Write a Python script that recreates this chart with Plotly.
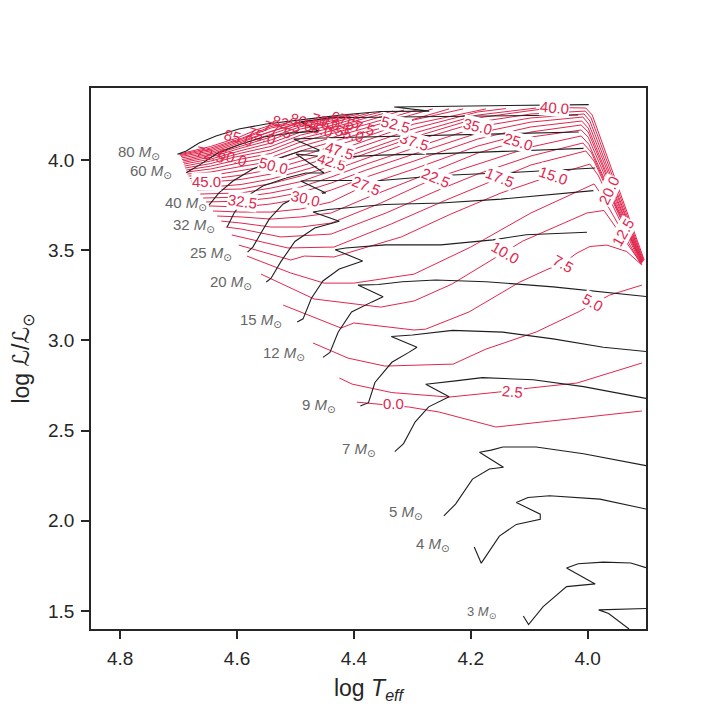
import plotly.graph_objects as go

# ---- evolutionary tracks (log Teff, log L/Lsun) ----
track_80 = [(4.702, 4.032), (4.687, 4.051), (4.665, 4.095), (4.636, 4.134), (4.597, 4.173), (4.550, 4.200),
            (4.491, 4.223), (4.422, 4.250), (4.354, 4.270), (4.271, 4.272), (4.331, 4.295), (4.268, 4.297),
            (4.182, 4.300), (3.998, 4.308)]
track_60 = [(4.687, 3.930), (4.662, 3.978), (4.633, 4.040), (4.593, 4.089), (4.554, 4.128), (4.508, 4.150),
            (4.460, 4.162), (4.491, 4.211), (4.439, 4.235), (4.251, 4.242), (4.016, 4.250)]
track_40 = [(4.648, 3.751), (4.631, 3.818), (4.607, 3.884), (4.573, 3.951), (4.533, 4.006), (4.491, 4.051),
            (4.456, 4.051), (4.503, 4.117), (4.439, 4.124), (4.251, 4.139), (4.015, 4.156)]
track_32 = [(4.617, 3.629), (4.605, 3.707), (4.585, 3.796), (4.556, 3.857), (4.516, 3.901), (4.482, 3.929),
            (4.451, 3.929), (4.499, 4.034), (4.439, 4.015), (4.354, 4.028), (4.251, 4.036), (4.114, 4.051),
            (4.007, 4.065)]
track_25 = [(4.582, 3.490), (4.573, 3.518), (4.562, 3.579), (4.545, 3.673), (4.521, 3.757), (4.491, 3.807),
            (4.448, 3.818), (4.491, 3.884), (4.439, 3.887), (4.354, 3.887), (4.251, 3.915), (4.114, 3.934),
            (3.987, 3.956)]
track_20 = [(4.550, 3.324), (4.542, 3.344), (4.525, 3.437), (4.501, 3.549), (4.467, 3.624), (4.425, 3.661),
            (4.470, 3.712), (4.444, 3.726), (4.347, 3.754), (4.251, 3.762), (4.148, 3.784), (3.990, 3.831)]
track_15 = [(4.497, 3.102), (4.487, 3.120), (4.473, 3.233), (4.453, 3.330), (4.425, 3.396), (4.385, 3.441),
            (4.432, 3.503), (4.414, 3.513), (4.346, 3.530), (4.251, 3.530), (4.162, 3.558), (4.105, 3.586),
            (4.001, 3.600)]
track_12 = [(4.453, 2.906), (4.441, 2.934), (4.427, 3.046), (4.404, 3.158), (4.369, 3.214), (4.350, 3.242),
            (4.393, 3.307), (4.358, 3.310), (4.317, 3.326), (4.260, 3.335), (4.174, 3.326), (4.059, 3.297),
            (3.900, 3.244)]
track_9 = [(4.389, 2.636), (4.375, 2.655), (4.364, 2.767), (4.335, 2.879), (4.306, 2.934), (4.292, 2.962),
           (4.336, 3.022), (4.300, 3.030), (4.231, 3.056), (4.145, 3.046), (4.059, 3.009), (3.973, 2.962),
           (3.900, 2.939)]
track_7 = [(4.330, 2.384), (4.315, 2.428), (4.295, 2.549), (4.272, 2.632), (4.237, 2.688), (4.277, 2.757),
           (4.226, 2.776), (4.180, 2.794), (4.093, 2.782), (4.007, 2.744), (3.900, 2.679)]
track_5 = [(4.246, 2.027), (4.226, 2.093), (4.197, 2.231), (4.168, 2.287), (4.144, 2.297), (4.185, 2.380),
           (4.165, 2.392), (4.145, 2.409), (4.088, 2.409), (4.007, 2.372), (3.900, 2.306)]
track_4 = [(4.194, 1.855), (4.182, 1.765), (4.151, 1.915), (4.122, 1.980), (4.081, 2.008), (4.081, 2.037),
           (4.122, 2.101), (4.102, 2.129), (4.065, 2.139), (3.979, 2.120), (3.900, 2.065)]
track_3 = [(4.110, 1.472), (4.101, 1.425), (4.076, 1.524), (4.036, 1.635), (3.987, 1.650), (4.036, 1.738),
           (4.016, 1.762), (3.973, 1.771), (3.926, 1.766), (3.900, 1.740)]
track_2p5 = [(3.929, 1.400), (3.964, 1.486), (3.981, 1.506), (3.955, 1.509), (3.925, 1.514), (3.900, 1.514)]

masses = [80, 60, 40, 32, 25, 20, 15, 12, 9, 7, 5, 4, 3]
mass_label_T = [4.768, 4.747, 4.687, 4.674, 4.645, 4.610, 4.559, 4.520, 4.460, 4.391, 4.311, 4.265, 4.182]
mass_label_L = [4.044, 3.935, 3.757, 3.640, 3.485, 3.324, 3.108, 2.930, 2.642, 2.398, 2.048, 1.871, 1.489]

# ---- iso-lines (every 2.5) ----
iso_00 = [(4.395, 2.658), (4.354, 2.647), (4.306, 2.631), (4.254, 2.603), (4.157, 2.520), (4.064, 2.553),
          (3.977, 2.586), (3.907, 2.609)]
iso_02 = [(4.425, 2.792), (4.403, 2.758), (4.335, 2.711), (4.237, 2.686), (4.152, 2.714), (4.099, 2.736),
          (4.018, 2.764), (3.907, 2.875)]
iso_05 = [(4.470, 2.986), (4.410, 2.902), (4.347, 2.858), (4.230, 2.869), (4.174, 2.952), (4.088, 3.047),
          (4.016, 3.158), (3.962, 3.252), (3.907, 3.307)]
iso_07 = [(4.521, 3.196), (4.479, 3.141), (4.422, 3.069), (4.400, 3.097), (4.297, 3.058), (4.277, 3.063),
          (4.203, 3.158), (4.116, 3.324), (4.071, 3.391), (4.042, 3.429), (4.018, 3.485), (3.996, 3.521),
          (3.967, 3.529), (3.933, 3.493), (3.907, 3.418)]
iso_10 = [(4.559, 3.368), (4.468, 3.230), (4.354, 3.185), (4.297, 3.219), (4.232, 3.313), (4.174, 3.429),
          (4.111, 3.551), (4.001, 3.707), (3.972, 3.721), (3.907, 3.421)]
iso_12 = [(4.583, 3.468), (4.508, 3.374), (4.451, 3.318), (4.400, 3.318), (4.297, 3.368), (4.200, 3.518),
          (4.097, 3.707), (3.989, 3.868), (3.977, 3.812), (3.909, 3.424)]
iso_15 = [(4.597, 3.529), (4.508, 3.446), (4.485, 3.468), (4.434, 3.463), (4.319, 3.574), (4.234, 3.701),
          (4.148, 3.818), (4.059, 3.917), (3.996, 3.978), (3.982, 3.917), (3.909, 3.427)]
iso_17 = [(4.609, 3.585), (4.513, 3.513), (4.434, 3.518), (4.336, 3.646), (4.242, 3.779), (4.150, 3.901),
          (4.097, 3.973), (4.003, 4.051), (3.989, 3.995), (3.908, 3.429)]
iso_20 = [(4.619, 3.629), (4.593, 3.618), (4.525, 3.574), (4.439, 3.590), (4.345, 3.707), (4.251, 3.840),
          (4.188, 3.923), (4.097, 4.023), (4.008, 4.095), (3.994, 4.045), (3.907, 3.429)]
iso_22 = [(4.627, 3.662), (4.593, 3.651), (4.542, 3.629), (4.491, 3.629), (4.439, 3.651), (4.354, 3.762),
          (4.261, 3.901), (4.188, 3.978), (4.097, 4.073), (4.011, 4.134), (3.998, 4.089), (3.907, 3.432)]
iso_25 = [(4.634, 3.690), (4.593, 3.685), (4.542, 3.673), (4.491, 3.685), (4.439, 3.707), (4.379, 3.790),
          (4.297, 3.895), (4.188, 4.039), (4.119, 4.106), (4.097, 4.128), (4.011, 4.167), (3.999, 4.128),
          (3.907, 3.435)]
iso_27 = [(4.641, 3.718), (4.593, 3.712), (4.542, 3.712), (4.491, 3.729), (4.439, 3.768), (4.379, 3.862),
          (4.297, 3.951), (4.188, 4.078), (4.097, 4.156), (4.011, 4.195), (3.999, 4.156), (3.906, 3.435)]
iso_30 = [(4.648, 3.746), (4.593, 3.740), (4.542, 3.757), (4.482, 3.790), (4.439, 3.834), (4.379, 3.906),
          (4.297, 3.995), (4.188, 4.117), (4.097, 4.184), (4.010, 4.217), (3.999, 4.178), (3.906, 3.438)]
iso_32 = [(4.653, 3.768), (4.590, 3.773), (4.542, 3.790), (4.491, 3.820), (4.439, 3.873), (4.379, 3.945),
          (4.297, 4.034), (4.188, 4.150), (4.097, 4.211), (4.008, 4.239), (3.998, 4.200), (3.905, 3.440)]
iso_35 = [(4.658, 3.790), (4.593, 3.795), (4.542, 3.818), (4.491, 3.851), (4.439, 3.906), (4.379, 3.978),
          (4.297, 4.067), (4.188, 4.184), (4.097, 4.234), (4.006, 4.256), (3.996, 4.217), (3.905, 3.440)]
iso_37 = [(4.663, 3.812), (4.593, 3.818), (4.542, 3.845), (4.491, 3.881), (4.439, 3.940), (4.379, 4.012),
          (4.297, 4.106), (4.188, 4.211), (4.097, 4.256), (4.004, 4.272), (3.994, 4.234), (3.904, 3.443)]
iso_40 = [(4.669, 3.834), (4.593, 3.840), (4.542, 3.870), (4.491, 3.912), (4.439, 3.967), (4.379, 4.037),
          (4.297, 4.128), (4.188, 4.234), (4.097, 4.275), (4.057, 4.292), (4.003, 4.289), (3.992, 4.250),
          (3.903, 3.446)]
iso_42 = [(4.674, 3.856), (4.645, 3.851), (4.593, 3.865), (4.542, 3.895), (4.491, 3.940), (4.439, 3.990),
          (4.379, 4.056), (4.297, 4.150), (4.188, 4.250), (4.088, 4.289)]
iso_45 = [(4.679, 3.884), (4.645, 3.879), (4.593, 3.893), (4.542, 3.923), (4.491, 3.967), (4.439, 4.017),
          (4.379, 4.084), (4.297, 4.175), (4.188, 4.267), (4.140, 4.286)]
iso_47 = [(4.681, 3.898), (4.645, 3.895), (4.593, 3.917), (4.542, 3.948), (4.491, 3.995), (4.425, 4.056),
          (4.379, 4.109), (4.297, 4.200), (4.174, 4.284)]
iso_50 = [(4.683, 3.912), (4.645, 3.915), (4.593, 3.942), (4.538, 3.973), (4.491, 4.023), (4.439, 4.073),
          (4.379, 4.131), (4.297, 4.223), (4.213, 4.284)]
iso_52 = [(4.685, 3.923), (4.645, 3.934), (4.593, 3.965), (4.542, 3.992), (4.491, 4.051), (4.439, 4.101),
          (4.379, 4.156), (4.328, 4.198), (4.237, 4.284)]
iso_55 = [(4.686, 3.934), (4.645, 3.951), (4.593, 3.987), (4.542, 4.015), (4.491, 4.076), (4.439, 4.123),
          (4.379, 4.178), (4.265, 4.284)]
iso_57 = [(4.687, 3.945), (4.645, 3.967), (4.593, 4.006), (4.542, 4.037), (4.491, 4.101), (4.439, 4.145),
          (4.379, 4.198), (4.289, 4.281)]
iso_60 = [(4.689, 3.956), (4.645, 3.981), (4.607, 4.015), (4.542, 4.056), (4.491, 4.120), (4.439, 4.162),
          (4.379, 4.217), (4.314, 4.278)]
iso_62 = [(4.690, 3.967), (4.645, 3.995), (4.593, 4.039), (4.542, 4.076), (4.491, 4.139), (4.439, 4.178),
          (4.379, 4.234), (4.333, 4.272)]
iso_65 = [(4.691, 3.978), (4.645, 4.006), (4.593, 4.053), (4.542, 4.095), (4.491, 4.156), (4.439, 4.192),
          (4.379, 4.247), (4.354, 4.267)]
iso_67 = [(4.692, 3.987), (4.645, 4.017), (4.593, 4.067), (4.542, 4.112), (4.491, 4.173), (4.439, 4.206),
          (4.374, 4.261)]
iso_70 = [(4.693, 3.995), (4.645, 4.026), (4.593, 4.078), (4.542, 4.128), (4.491, 4.186), (4.439, 4.217),
          (4.391, 4.256)]
iso_72 = [(4.694, 4.003), (4.645, 4.034), (4.593, 4.089), (4.542, 4.145), (4.491, 4.198), (4.439, 4.228),
          (4.402, 4.253)]
iso_75 = [(4.695, 4.012), (4.645, 4.042), (4.593, 4.098), (4.542, 4.159), (4.491, 4.206), (4.414, 4.247)]
iso_77 = [(4.696, 4.020), (4.645, 4.051), (4.593, 4.106), (4.530, 4.170), (4.491, 4.211), (4.431, 4.242)]
iso_80 = [(4.697, 4.026), (4.645, 4.059), (4.593, 4.114), (4.542, 4.178), (4.473, 4.223)]
iso_82 = [(4.698, 4.030), (4.645, 4.067), (4.593, 4.120), (4.542, 4.186), (4.508, 4.211)]
iso_85 = [(4.700, 4.033), (4.645, 4.076), (4.598, 4.125), (4.568, 4.167), (4.538, 4.198)]

# inline labels of the iso-lines
clabel_vals = [0.0, 2.5, 5.0, 7.5, 10.0, 12.5, 15.0, 17.5, 20.0, 22.5, 25.0, 27.5, 30.0, 32.5, 35.0, 37.5,
               40.0, 42.5, 45.0, 47.5, 50.0, 52.5, 55.0, 57.5, 60.0, 62.5, 65.0, 67.5, 70.0, 72.5, 75.0,
               77.5, 80.0, 82.5, 85.0]
clabel_T = [4.333, 4.128, 3.991, 4.042, 4.141, 3.939, 4.059, 4.150, 3.963, 4.261, 4.119, 4.379, 4.482,
            4.590, 4.188, 4.297, 4.057, 4.439, 4.653, 4.425, 4.538, 4.328, 4.408, 4.388, 4.607, 4.431,
            4.460, 4.414, 4.448, 4.645, 4.559, 4.530, 4.485, 4.516, 4.598]
clabel_L = [2.653, 2.719, 3.208, 3.429, 3.490, 3.596, 3.917, 3.901, 3.829, 3.901, 4.106, 3.862, 3.790,
            3.773, 4.184, 4.106, 4.292, 3.990, 3.879, 4.056, 3.973, 4.198, 4.150, 4.189, 4.015, 4.186,
            4.178, 4.228, 4.212, 4.034, 4.138, 4.170, 4.215, 4.205, 4.125]

isolines = [iso_00, iso_02, iso_05, iso_07, iso_10, iso_12, iso_15, iso_17, iso_20, iso_22, iso_25, iso_27,
            iso_30, iso_32, iso_35, iso_37, iso_40, iso_42, iso_45, iso_47, iso_50, iso_52, iso_55, iso_57,
            iso_60, iso_62, iso_65, iso_67, iso_70, iso_72, iso_75, iso_77, iso_80, iso_82, iso_85]
tracks = [track_80, track_60, track_40, track_32, track_25, track_20, track_15, track_12, track_9,
          track_7, track_5, track_4, track_3, track_2p5]

RED = "#e2264d"
DARK = "#262626"
FONT = "Liberation Sans, Arial, DejaVu Sans, sans-serif"

fig = go.Figure()

for pts in isolines:
    fig.add_trace(go.Scatter(x=[p[0] for p in pts], y=[p[1] for p in pts], mode="lines",
                             line=dict(color=RED, width=1), hoverinfo="skip"))

for pts in tracks:
    fig.add_trace(go.Scatter(x=[p[0] for p in pts], y=[p[1] for p in pts], mode="lines",
                             line=dict(color="#1e1e1e", width=1.1), hoverinfo="skip"))

# label rotation (mirrored along the line, as in the original)
clabel_angle = [0, 5, 28, 29, 30, -60, 19, 22, -65, 22, 17, 22, 13, 8, 14, 18, 5, 18, 0, 17, 14, 15,
                16, 16, 18, 16, 16, 16, 16, 15, 18, 18, 16, 16, 15]

for v, t, l, a in zip(clabel_vals, clabel_T, clabel_L, clabel_angle):
    fig.add_annotation(x=t, y=l, text=f"{v:.1f}", showarrow=False, textangle=a,
                       font=dict(color=RED, size=15, family=FONT),
                       bgcolor="white" if v <= 52.5 else "rgba(255,255,255,0)", borderpad=0)

for m, t, l in zip(masses, mass_label_T, mass_label_L):
    fig.add_annotation(x=t, y=l, text=f"{m} <i>M</i><sub>⊙</sub>", showarrow=False,
                       font=dict(color="#666666", size=13 if m == 3 else 15, family=FONT))

axis_common = dict(showline=True, mirror=True, linecolor=DARK, linewidth=1.8, ticks="outside",
                   ticklen=8, tickwidth=1.5, tickcolor=DARK, showgrid=False, zeroline=False,
                   ticklabelstandoff=3,
                   tickfont=dict(size=19, color=DARK, family=FONT))

fig.update_xaxes(range=[4.85, 3.90], tickvals=[4.8, 4.6, 4.4, 4.2, 4.0], tickformat=".1f",
                 title=dict(text="log <i>T</i><sub><i>eff</i></sub>", font=dict(size=23, color=DARK, family=FONT),
                            standoff=12),
                 **axis_common)
fig.update_yaxes(range=[1.40, 4.40], tickvals=[1.5, 2.0, 2.5, 3.0, 3.5, 4.0], tickformat=".1f",
                 title=dict(text="log ℒ/ℒ<sub>⊙</sub>", font=dict(size=23, color=DARK, family=FONT),
                            standoff=12),
                 **axis_common)

fig.update_layout(width=717, height=717, showlegend=False,
                  margin=dict(l=83, r=79, t=80, b=96),
                  paper_bgcolor="white", plot_bgcolor="white",
                  font=dict(family=FONT))

fig.write_html("out.html")
